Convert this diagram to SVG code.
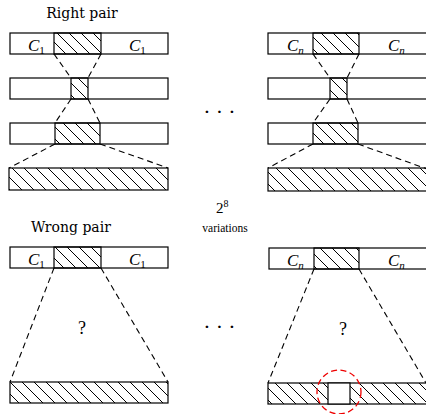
<svg xmlns="http://www.w3.org/2000/svg" width="426" height="414" viewBox="0 0 426 414">
<defs>
<pattern id="hatch" patternUnits="userSpaceOnUse" width="12" height="12">
<path d="M0,0 L12,12 M-3,9 L3,15 M9,-3 L15,3" stroke="#000" stroke-width="1" fill="none"/>
</pattern>
<style>
.bar{fill:#fff;stroke:#000;stroke-width:1.2}
.hb{fill:url(#hatch);stroke:#000;stroke-width:1.2}
.dash{stroke:#000;stroke-width:1.1;stroke-dasharray:6 4;fill:none}
</style>
</defs>
<rect width="426" height="414" fill="#fff"/>

<text x="82" y="18" font-size="14" font-family="DejaVu Serif" text-anchor="middle">Right pair</text>
<text x="71" y="232" font-size="14" font-family="DejaVu Serif" text-anchor="middle">Wrong pair</text>

<g id="connectors">
<path class="dash" d="M54,54 L71,78 M101,54 L88,78 M71,99 L55,123 M88,99 L100,123 M55,144 L9,168 M100,144 L168,168"/>
<path class="dash" d="M313,54 L330,78 M359,54 L347,78 M330,99 L313,123 M347,99 L358,123 M313,144 L268,168 M358,144 L427,169"/>
<path class="dash" d="M54,268 L10,382 M101,268 L168,382"/>
<path class="dash" d="M314,269 L268,383 M359,269 L426,383"/>
</g>

<g id="left-r1">
<rect class="bar" x="10" y="33" width="158" height="21"/>
<rect class="hb" x="54" y="33" width="47" height="21"/>
<text x="28" y="51" font-size="17" font-family="Liberation Serif" font-style="italic">C<tspan font-size="11" font-style="normal" dy="2.5">1</tspan></text>
<text x="129" y="51" font-size="17" font-family="Liberation Serif" font-style="italic">C<tspan font-size="11" font-style="normal" dy="2.5">1</tspan></text>
</g>
<g id="left-r2">
<rect class="bar" x="10" y="78" width="158" height="21"/>
<rect class="hb" x="71" y="78" width="17" height="21"/>
</g>
<g id="left-r3">
<rect class="bar" x="10" y="123" width="158" height="21"/>
<rect class="hb" x="55" y="123" width="45" height="21"/>
</g>
<g id="left-r4">
<rect class="hb" x="9" y="168" width="159" height="22"/>
</g>

<g id="right-r1">
<rect class="bar" x="268" y="33" width="160" height="21"/>
<rect class="hb" x="313" y="33" width="46" height="21"/>
<text x="287" y="51" font-size="17" font-family="Liberation Serif" font-style="italic">C<tspan font-size="11" dy="2.5">n</tspan></text>
<text x="388" y="51" font-size="17" font-family="Liberation Serif" font-style="italic">C<tspan font-size="11" dy="2.5">n</tspan></text>
</g>
<g id="right-r2">
<rect class="bar" x="268" y="78" width="160" height="21"/>
<rect class="hb" x="330" y="78" width="17" height="21"/>
</g>
<g id="right-r3">
<rect class="bar" x="268" y="123" width="160" height="21"/>
<rect class="hb" x="313" y="123" width="45" height="21"/>
</g>
<g id="right-r4">
<rect class="hb" x="268" y="168" width="160" height="23"/>
</g>

<g id="dots-top">
<text font-size="22" font-family="Liberation Serif" text-anchor="middle" y="119"><tspan x="207">·</tspan><tspan x="219.5">·</tspan><tspan x="232">·</tspan></text>
</g>
<g id="variations">
<text x="216" y="213" font-size="15" font-family="Liberation Serif">2<tspan font-size="10" dy="-6">8</tspan></text>
<text x="225" y="232" font-size="11.5" font-family="Liberation Serif" text-anchor="middle">variations</text>
</g>

<g id="wrong-left-top">
<rect class="bar" x="10" y="247" width="158" height="21"/>
<rect class="hb" x="54" y="247" width="47" height="21"/>
<text x="28" y="265" font-size="17" font-family="Liberation Serif" font-style="italic">C<tspan font-size="11" font-style="normal" dy="2.5">1</tspan></text>
<text x="129" y="265" font-size="17" font-family="Liberation Serif" font-style="italic">C<tspan font-size="11" font-style="normal" dy="2.5">1</tspan></text>
</g>
<text x="82" y="334" font-size="18" font-family="Liberation Serif" text-anchor="middle">?</text>
<g id="wrong-left-bottom">
<rect class="hb" x="10" y="382" width="158" height="21"/>
</g>

<g id="wrong-right-top">
<rect class="bar" x="269" y="248" width="160" height="21"/>
<rect class="hb" x="314" y="248" width="45" height="21"/>
<text x="287" y="266" font-size="17" font-family="Liberation Serif" font-style="italic">C<tspan font-size="11" dy="2.5">n</tspan></text>
<text x="388" y="266" font-size="17" font-family="Liberation Serif" font-style="italic">C<tspan font-size="11" dy="2.5">n</tspan></text>
</g>
<text x="343" y="335" font-size="18" font-family="Liberation Serif" text-anchor="middle">?</text>
<g id="wrong-right-bottom">
<rect class="hb" x="268" y="383" width="160" height="21"/>
<rect x="328" y="383" width="22" height="21" fill="#fff" stroke="#000" stroke-width="1.2"/>
<circle cx="339" cy="392" r="22" fill="none" stroke="#e00" stroke-width="1.3" stroke-dasharray="6 3.5"/>
</g>

<g id="dots-bottom">
<text font-size="22" font-family="Liberation Serif" text-anchor="middle" y="334"><tspan x="207">·</tspan><tspan x="219.5">·</tspan><tspan x="232">·</tspan></text>
</g>
</svg>
